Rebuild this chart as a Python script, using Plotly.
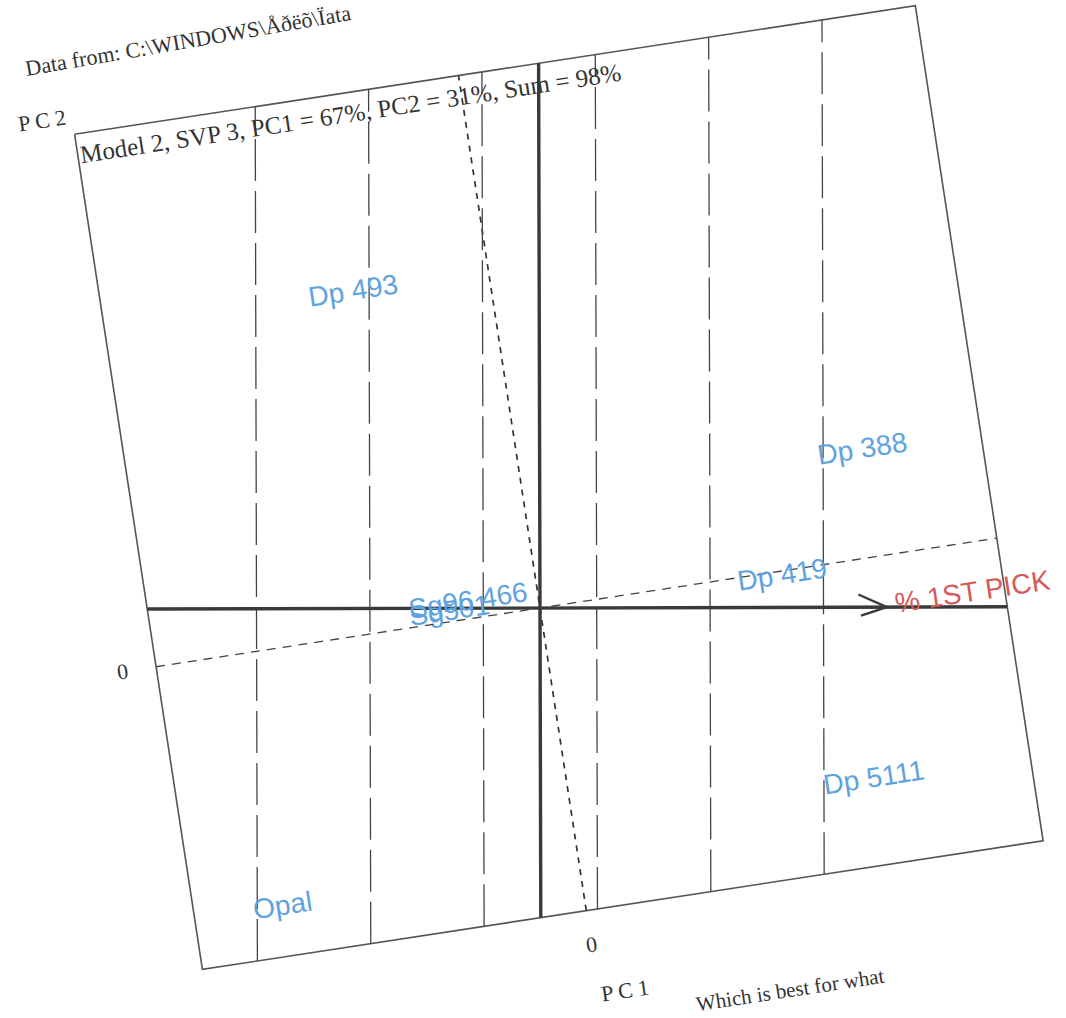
import numpy as np
import plotly.graph_objects as go

# ---------------- data (GGE biplot scores, PC units) ----------------
genotypes = ["Dp 493", "Dp 388", "Dp 419", "Dp 5111", "Opal", "Sg501", "Sg96 466"]
genotype_pc1 = [-2.41, 6.04, 4.31, 5.37, -5.29, -1.58, -1.23]
genotype_pc2 = [6.04, 1.93, -0.07, -3.85, -4.49, 0.19, 0.33]

traits = ["% 1ST PICK"]
trait_pc1 = [6.05]
trait_pc2 = [-0.91]

pc1_range = [-6.85, 8.15]
pc2_range = [-5.40, 9.50]
projection_ticks = [-5, -3, -1, 1, 3, 5]   # perpendicular guide lines along the trait axis
zero_ticks = ["0", "0"]

title_text = "Model 2, SVP 3, PC1 = 67%, PC2 = 31%, Sum = 98%"
source_text = "Data from: C:\\WINDOWS\\Åðëõ\\Ïata"
footer_text = "Which is best for what"
x_title = "P C 1"
y_title = "P C 2"

# ---------------- page geometry (scanned page is tilted) ----------------
ORIGIN = (540.0, 608.0)
SCALE = 56.7
TILT_DEG = 8.7
TILT = np.deg2rad(TILT_DEG)
C, S = np.cos(TILT), np.sin(TILT)


def to_page(p1, p2):
    p1 = np.asarray(p1, float)
    p2 = np.asarray(p2, float)
    x = ORIGIN[0] + SCALE * (p1 * C - p2 * S)
    y = ORIGIN[1] + SCALE * (-p1 * S - p2 * C)
    return x, y


def clip(p, d):
    p = np.asarray(p, float)
    d = np.asarray(d, float)
    tmin, tmax = -1e9, 1e9
    for k, (lo, hi) in enumerate([pc1_range, pc2_range]):
        if abs(d[k]) < 1e-12:
            continue
        t1 = (lo - p[k]) / d[k]
        t2 = (hi - p[k]) / d[k]
        tmin = max(tmin, min(t1, t2))
        tmax = min(tmax, max(t1, t2))
    return p + tmin * d, p + tmax * d


def seg_xy(segments):
    xs, ys = [], []
    for a, b in segments:
        x, y = to_page([a[0], b[0]], [a[1], b[1]])
        xs += list(x) + [None]
        ys += list(y) + [None]
    return xs, ys


fig = go.Figure()

LINE = "#3a3a3a"

# frame
fx, fy = to_page([pc1_range[0], pc1_range[1], pc1_range[1], pc1_range[0], pc1_range[0]],
                 [pc2_range[1], pc2_range[1], pc2_range[0], pc2_range[0], pc2_range[1]])
fig.add_trace(go.Scatter(x=fx, y=fy, mode="lines", line=dict(color="#555555", width=1.6),
                         hoverinfo="skip", showlegend=False))

# zero lines (rotated with frame)
zx, zy = seg_xy([((pc1_range[0], 0), (pc1_range[1], 0))])
fig.add_trace(go.Scatter(x=zx, y=zy, mode="lines", line=dict(color="#444444", width=1.3, dash="9px,7px"),
                         hoverinfo="skip", showlegend=False))
zx, zy = seg_xy([((0, pc2_range[0]), (0, pc2_range[1]))])
fig.add_trace(go.Scatter(x=zx, y=zy, mode="lines", line=dict(color="#333333", width=1.7, dash="6px,6px"),
                         hoverinfo="skip", showlegend=False))

# trait axis and perpendiculars
tv = np.array([trait_pc1[0], trait_pc2[0]])
u = tv / np.linalg.norm(tv)
n = np.array([-u[1], u[0]])

perp = [clip(t * u, n) for t in projection_ticks]
px_, py_ = seg_xy(perp)
fig.add_trace(go.Scatter(x=px_, y=py_, mode="lines", line=dict(color="#444444", width=1.3, dash="42px,10px"),
                         hoverinfo="skip", showlegend=False))

axes = [clip((0, 0), u), clip((0, 0), n)]
ax_, ay_ = seg_xy(axes)
fig.add_trace(go.Scatter(x=ax_, y=ay_, mode="lines", line=dict(color=LINE, width=3.4),
                         hoverinfo="skip", showlegend=False))

# arrow head at trait tip
tip = tv
barbs = []
for ang, ln in ((18, 0.48), (-24, 0.55)):
    r = np.deg2rad(ang)
    back = -u
    d = np.array([back[0] * np.cos(r) - back[1] * np.sin(r), back[0] * np.sin(r) + back[1] * np.cos(r)])
    barbs.append((tuple(tip), tuple(tip + ln * d)))
bx, by = seg_xy(barbs)
fig.add_trace(go.Scatter(x=bx, y=by, mode="lines", line=dict(color=LINE, width=2.4),
                         hoverinfo="skip", showlegend=False))

annotations = []
BLUE = "#5ea2de"
RED = "#d65a5a"

# genotype labels
gx, gy = to_page(genotype_pc1, genotype_pc2)
for name, x, y in zip(genotypes, gx, gy):
    annotations.append(dict(x=x, y=y, xref="x", yref="y", text=name, showarrow=False,
                            textangle=-TILT_DEG, xanchor="center", yanchor="middle",
                            font=dict(family="Liberation Sans, Arial", size=28, color=BLUE)))

# trait label
tx, ty = to_page(trait_pc1, trait_pc2)
for name, x, y in zip(traits, tx, ty):
    annotations.append(dict(x=x + 86, y=y - 16, xref="x", yref="y", text=name, showarrow=False,
                            textangle=-TILT_DEG, xanchor="center", yanchor="middle",
                            font=dict(family="Liberation Sans, Arial", size=28, color=RED)))

SERIF = "Liberation Serif, Times New Roman"
TXT = "#333333"


def page_text(text, x, y, size, angle=TILT_DEG):
    annotations.append(dict(x=x, y=y, xref="x", yref="y", text=text, showarrow=False,
                            textangle=-angle, xanchor="center", yanchor="middle",
                            font=dict(family=SERIF, size=size, color=TXT)))


# zero tick labels, placed just outside the frame
lx, ly = to_page(pc1_range[0] - 0.6, 0)
page_text(zero_ticks[0], float(lx), float(ly), 22)
bx0, by0 = to_page(0, pc2_range[0] - 0.6)
page_text(zero_ticks[1], float(bx0), float(by0), 22)

# axis titles
x1, y1 = to_page(0.46, pc2_range[0] - 1.49)
page_text(x_title, float(x1), float(y1), 22)
x2, y2 = to_page(pc1_range[0] - 0.53, pc2_range[1] + 0.33)
page_text(y_title, float(x2), float(y2), 22)

# title inside frame top
page_text(title_text, 350, 113, 25)
# source line (runs up to the top of the scan)
page_text(source_text, 188, 40, 22, angle=9.8)
# footer (near the bottom edge of the scan)
page_text(footer_text, 790, 990, 21)

fig.update_layout(
    width=1066, height=1018,
    margin=dict(l=0, r=0, t=0, b=0),
    paper_bgcolor="white", plot_bgcolor="white",
    xaxis=dict(range=[0, 1066], visible=False, fixedrange=True),
    yaxis=dict(range=[1018, 0], visible=False, fixedrange=True),
    annotations=annotations,
    showlegend=False,
)

fig.write_html("out.html", config={"displayModeBar": False},
               post_script="document.body.style.margin='0';")
